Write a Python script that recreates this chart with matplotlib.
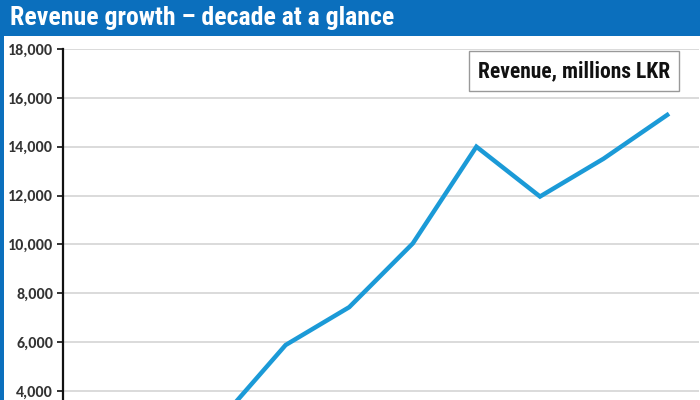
import matplotlib
matplotlib.use("Agg")
import matplotlib.pyplot as plt
from matplotlib.patches import Rectangle
from matplotlib.ticker import FuncFormatter

# revenue, millions LKR - ten years, first points fall below the visible crop
years = ["Y1", "Y2", "Y3", "Y4", "Y5", "Y6", "Y7", "Y8", "Y9", "Y10"]
revenue = [1900, 2400, 2900, 5880, 7430, 10040, 14000, 11960, 13510, 15300]
y_ticks = [4000, 6000, 8000, 10000, 12000, 14000, 16000, 18000]

title = "Revenue growth \u2013 decade at a glance"
legend_text = "Revenue, millions LKR"

narrow = ["Roboto Condensed", "DejaVu Sans"]
blue_bar = "#0b6fbd"
line_blue = "#1b9ad7"

fig = plt.figure(figsize=(7, 4), dpi=100)
fig.patch.set_facecolor("white")

# title bar and left frame
fig.patches.append(Rectangle((0, 1 - 36 / 400), 1, 36 / 400, transform=fig.transFigure,
                             facecolor=blue_bar, edgecolor="none", zorder=0))
fig.patches.append(Rectangle((0, 0), 4 / 700, 1, transform=fig.transFigure,
                             facecolor=blue_bar, edgecolor="none", zorder=0))
fig.text(10 / 700, 1 - 18 / 400, title, color="white", fontsize=18.5, fontweight="bold",
         family=narrow, va="center", ha="left")

ax = fig.add_axes([63 / 700, 0, 636 / 700, 1 - 49 / 400])
ax.plot(range(len(years)), revenue, color=line_blue, lw=3.2, solid_joinstyle="miter",
        zorder=3, clip_on=True)
ax.set_xlim(-0.5, len(years) - 0.5)
ax.set_ylim(3630, 18000)
ax.set_yticks(y_ticks)
ax.yaxis.set_major_formatter(FuncFormatter(lambda v, p: f"{int(v):,}"))
ax.grid(axis="y", color="#d4d4d4", lw=1.2)
ax.set_axisbelow(True)
ax.set_xticks([])

for s in ["top", "right", "bottom"]:
    ax.spines[s].set_visible(False)
ax.spines["left"].set_color("#111111")
ax.spines["left"].set_linewidth(1.6)
ax.tick_params(axis="y", length=4, width=1.2, color="#111111", pad=3,
               labelsize=11.5, labelcolor="#333333")
for lbl in ax.get_yticklabels():
    lbl.set_fontweight("bold")
    lbl.set_family(["Carlito", "DejaVu Sans"])

ax.text(0.8035, 0.937, legend_text, transform=ax.transAxes, ha="center", va="center",
        fontsize=15.5, fontweight="bold", family=narrow, color="#111111",
        bbox=dict(boxstyle="square,pad=0.42", facecolor="white", edgecolor="#999999", lw=1))

fig.savefig("out.png", dpi=100)
